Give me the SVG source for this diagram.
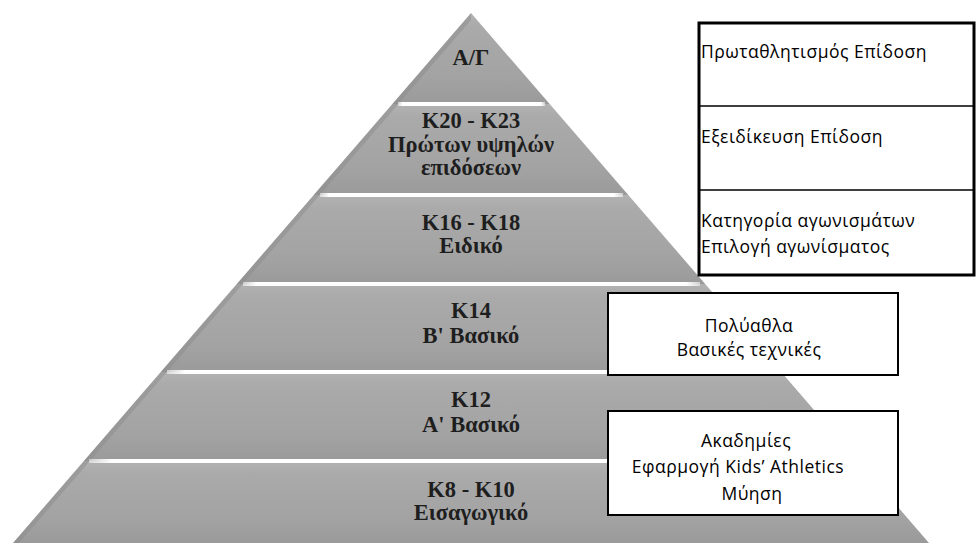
<svg xmlns="http://www.w3.org/2000/svg" width="976" height="543" viewBox="0 0 976 543">
<style>
.lvl{font-family:"Liberation Serif","DejaVu Serif",serif;font-weight:bold;font-size:22.5px;fill:#1e1e1e;text-anchor:middle}
.note{font-family:"Open Sans","Noto Sans",sans-serif;font-size:17.5px;letter-spacing:0.5px;fill:#000}
.mid{text-anchor:middle}
.box{fill:#fff;stroke:#000}
</style>
<defs>
<clipPath id="tri"><polygon points="471,13 13,543 929,543"/></clipPath>
<linearGradient id="band" x1="0" y1="0" x2="0" y2="1">
<stop offset="0" stop-color="#b2b2b2"/>
<stop offset="0.15" stop-color="#aaaaaa"/>
<stop offset="0.7" stop-color="#a3a3a3"/>
<stop offset="1" stop-color="#9a9a9a"/>
</linearGradient>
<linearGradient id="stripe" x1="0" y1="0" x2="1" y2="0">
<stop offset="0" stop-color="#fff" stop-opacity="0.5"/>
<stop offset="0.03" stop-color="#fff" stop-opacity="1"/>
<stop offset="0.97" stop-color="#fff" stop-opacity="1"/>
<stop offset="1" stop-color="#fff" stop-opacity="0.5"/>
</linearGradient>
</defs>
<rect width="976" height="543" fill="#fff"/>
<g id="pyramid" clip-path="url(#tri)">
<rect x="0" y="13" width="976" height="91" fill="url(#band)"/>
<rect x="0" y="104" width="976" height="91" fill="url(#band)"/>
<rect x="0" y="195" width="976" height="89" fill="url(#band)"/>
<rect x="0" y="284" width="976" height="88" fill="url(#band)"/>
<rect x="0" y="372" width="976" height="89" fill="url(#band)"/>
<rect x="0" y="461" width="976" height="82" fill="url(#band)"/>
<polygon points="471,13 13,543 19,543 471,20" fill="#8a8a8a" opacity="0.45"/>
</g>
<g id="stripes">
<rect x="398" y="102" width="147" height="4" fill="url(#stripe)"/>
<rect x="320" y="193" width="303" height="4" fill="url(#stripe)"/>
<rect x="243" y="282" width="457" height="4" fill="url(#stripe)"/>
<rect x="167" y="370" width="609" height="4" fill="url(#stripe)"/>
<rect x="89" y="459" width="765" height="4" fill="url(#stripe)"/>
</g>
<g id="level-ag"><text class="lvl" x="471" y="65">Α/Γ</text></g>
<g id="level-k20"><text class="lvl" x="471" y="128">Κ20 - Κ23</text><text class="lvl" x="471" y="152">Πρώτων υψηλών</text><text class="lvl" x="471" y="175">επιδόσεων</text></g>
<g id="level-k16"><text class="lvl" x="471" y="230">Κ16 - Κ18</text><text class="lvl" x="471" y="253">Ειδικό</text></g>
<g id="level-k14"><text class="lvl" x="471" y="318">Κ14</text><text class="lvl" x="471" y="343">Β' Βασικό</text></g>
<g id="level-k12"><text class="lvl" x="471" y="407">Κ12</text><text class="lvl" x="471" y="432">Α' Βασικό</text></g>
<g id="level-k8"><text class="lvl" x="471" y="497">Κ8 - Κ10</text><text class="lvl" x="471" y="520">Εισαγωγικό</text></g>
<g id="box-top">
<rect class="box" x="699" y="23" width="275" height="252" stroke-width="3"/>
<line x1="699" y1="106" x2="974" y2="106" stroke="#000" stroke-width="1.5"/>
<line x1="699" y1="190" x2="974" y2="190" stroke="#000" stroke-width="1.5"/>
<text class="note" x="701" y="58">Πρωταθλητισμός Επίδοση</text>
<text class="note" x="701" y="143">Εξειδίκευση Επίδοση</text>
<text class="note" x="701" y="227">Κατηγορία αγωνισμάτων</text>
<text class="note" x="701" y="253">Επιλογή αγωνίσματος</text>
</g>
<g id="box-mid">
<rect class="box" x="608" y="293" width="290" height="82" stroke-width="2"/>
<text class="note mid" x="749" y="332">Πολύαθλα</text>
<text class="note mid" x="749" y="356">Βασικές τεχνικές</text>
</g>
<g id="box-bottom">
<rect class="box" x="608" y="411" width="290" height="104" stroke-width="2"/>
<text class="note mid" x="746" y="447">Ακαδημίες</text>
<text class="note mid" x="738" y="473">Εφαρμογή Kids’ Athletics</text>
<text class="note mid" x="752" y="500">Μύηση</text>
</g>
</svg>
